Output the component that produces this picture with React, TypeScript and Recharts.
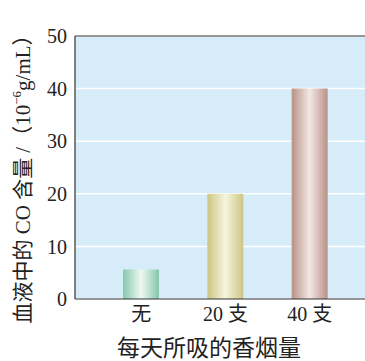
import { BarChart, Bar, XAxis, YAxis, CartesianGrid, Cell, Label, ReferenceLine } from "recharts";

const categories = ["无", "20 支", "40 支"];
const coLevels = [5.6, 20, 40];
const yTicks = [0, 10, 20, 30, 40, 50];

// edge / centre colours for the cylinder-look bars
const barEdge = ["#86c7ac", "#cdc583", "#b89186"];
const barMid = ["#eef8f3", "#f6f5de", "#f3e8e6"];

const data = categories.map((name, i) => ({ name, value: coLevels[i] }));

const serif = "'Liberation Serif', 'Noto Sans CJK SC', serif";
const cjk = "'Liberation Serif', 'Noto Sans CJK SC', sans-serif";

export default function App() {
  return (
    <div style={{ position: "absolute", left: 0, top: 0 }}>
      <BarChart width={365} height={361} data={data} margin={{ top: 36, right: 0, bottom: 32, left: 0 }}>
        <defs>
          {barEdge.map((c, i) => (
            <linearGradient key={i} id={`bg${i}`} x1="0" y1="0" x2="1" y2="0">
              <stop offset="0%" stopColor={c} />
              <stop offset="50%" stopColor={barMid[i]} />
              <stop offset="100%" stopColor={c} />
            </linearGradient>
          ))}
        </defs>
        <CartesianGrid vertical={false} stroke="#ffffff" strokeWidth={1.5} fill="#d6edf9" />
        <XAxis
          dataKey="name"
          height={30}
          padding={{ left: 24, right: 13 }}
          tickLine={false}
          axisLine={{ stroke: "#333", strokeWidth: 1.2 }}
          tick={{ fill: "#222", fontSize: 20, fontFamily: cjk }}
        >
          <Label
            content={() => (
              <text x={209} y={356} textAnchor="middle" fontSize={23} fill="#222" fontFamily={cjk}>
                每天所吸的香烟量
              </text>
            )}
          />
        </XAxis>
        <YAxis
          width={75}
          domain={[0, 50]}
          ticks={yTicks}
          tickLine={false}
          axisLine={{ stroke: "#333", strokeWidth: 1.2 }}
          tick={{ fill: "#222", fontSize: 20, fontFamily: serif }}
        >
          <Label
            content={() => (
              <text transform="translate(30,174) rotate(-90)" textAnchor="middle" fontSize={21} fill="#222" fontFamily={cjk}>
                血液中的 CO 含量 /（10
                <tspan dy={-9} fontSize={13}>−6</tspan>
                <tspan dy={9}>g/mL）</tspan>
              </text>
            )}
          />
        </YAxis>
        <ReferenceLine y={50} stroke="#333" strokeWidth={1.2} />
        <Bar dataKey="value" barSize={36} isAnimationActive={false}>
          {data.map((d, i) => (
            <Cell key={d.name} fill={`url(#bg${i})`} />
          ))}
        </Bar>
      </BarChart>
    </div>
  );
}
